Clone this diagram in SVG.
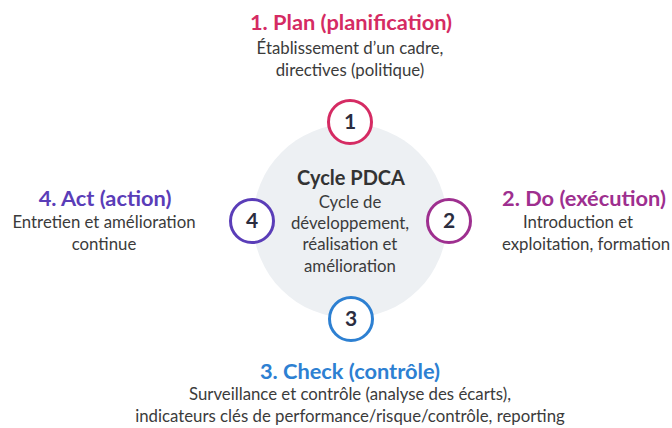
<svg xmlns="http://www.w3.org/2000/svg" width="672" height="428" viewBox="0 0 672 428">
<style>
.t{font-family:Lato,"Noto Sans","Liberation Sans",sans-serif;text-anchor:middle}
.h{font-weight:bold;font-size:21.8px}
.d{font-size:16.8px;fill:#3b3b3b}
.n{font-family:Lato,"Noto Sans","Liberation Sans",sans-serif;font-weight:bold;font-size:21px;fill:#2b2d3f;text-anchor:middle}
.ring{fill:#ffffff;stroke-width:3}
</style>
<rect width="672" height="428" fill="#ffffff"/>
<g id="connectors"></g>
<g id="center">
<circle cx="350" cy="221" r="97" fill="#edf0f3"/>
<text class="t" x="351" y="185" font-size="20" font-weight="bold" fill="#333333">Cycle PDCA</text>
<text class="t d" x="350" y="208">Cycle de</text>
<text class="t d" x="350" y="229">développement,</text>
<text class="t d" x="350" y="250">réalisation et</text>
<text class="t d" x="350" y="272">amélioration</text>
</g>
<g id="node1">
<circle class="ring" cx="350" cy="122" r="21.5" stroke="#d52b63"/>
<text class="n" x="350" y="129">1</text>
</g>
<g id="node2">
<circle class="ring" cx="449" cy="221" r="21.5" stroke="#9e2f8f"/>
<text class="n" x="449" y="228">2</text>
</g>
<g id="node3">
<circle class="ring" cx="351" cy="319" r="21.5" stroke="#2d80d2"/>
<text class="n" x="351" y="326">3</text>
</g>
<g id="node4">
<circle class="ring" cx="252" cy="221" r="21.5" stroke="#5a3db8"/>
<text class="n" x="252" y="228">4</text>
</g>
<g id="label1">
<text class="t h" x="351" y="30" fill="#d52b63">1. Plan (planification)</text>
<text class="t d" x="350" y="54">Établissement d’un cadre,</text>
<text class="t d" x="350" y="76">directives (politique)</text>
</g>
<g id="label2">
<text class="t h" x="584" y="206" fill="#9e2f8f">2. Do (exécution)</text>
<text class="t d" x="578" y="228">Introduction et</text>
<text class="t d" x="586" y="250">exploitation, formation</text>
</g>
<g id="label3">
<text class="t h" x="350" y="379" fill="#2d80d2">3. Check (contrôle)</text>
<text class="t d" x="350" y="400">Surveillance et contrôle (analyse des écarts),</text>
<text class="t d" x="350" y="422">indicateurs clés de performance/risque/contrôle, reporting</text>
</g>
<g id="label4">
<text class="t h" x="105" y="206" fill="#5a3db8">4. Act (action)</text>
<text class="t d" x="104" y="228">Entretien et amélioration</text>
<text class="t d" x="104" y="250">continue</text>
</g>
</svg>
